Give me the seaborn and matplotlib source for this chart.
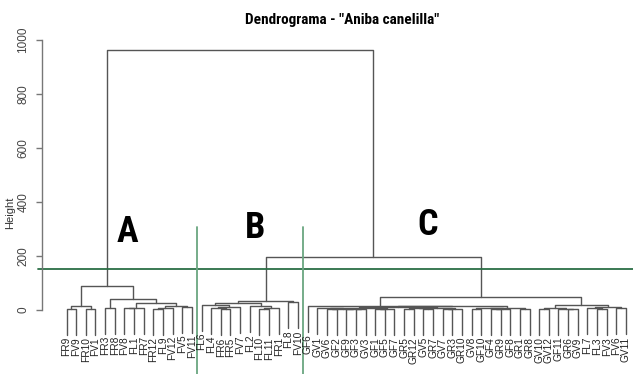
import matplotlib
matplotlib.use("Agg")
import matplotlib.pyplot as plt
import seaborn as sns
import pandas as pd
from matplotlib import font_manager
from matplotlib.font_manager import FontProperties

# sub-agrupamentos: (esquerda, direita, altura); folhas na ordem do gráfico
grupo_A = ((("FR9", "FV9", 4), ("FR10", "FV1", 3), 13),
           (("FR3", "FR8", 8),
            ((("FV8", "FL1", 6), "FR7", 9),
             ((("FR12", "FL9", 5), "FV12", 8), ("FV5", "FV11", 12), 16), 26), 41), 90)

grupo_B = ((("FL6", (("FL4", ("FR6", "FR5", 3), 8), "FV7", 10), 20),
            ("FL2", (("FL10", "FL11", 3), "FR1", 6), 13), 27),
           ("FL8", "FV10", 28), 32)

C1 = (("GV1", (("GV6", "GF2", 3), ("GF9", ("GF3", "GV3", 2), 4), 5), 6),
      (("GF1", "GF5", 3), "GF7", 5), 8)
C2 = ((("GR5", "GR12", 3), ("GV5", "GR7", 4), 6), (("GV7", "GR3", 3), "GR10", 5), 8)
C3 = ((("GV8", "GF10", 4), (("GF4", "GR9", 2), "GF8", 4), 7), ("GR1", "GR8", 3), 8)
C4 = (("GV10", "GV12", 5), ("GF11", ("GR6", "GV9", 3), 5), 8)
C5 = (("FL7", ("FL3", "FV3", 4), 7), ("FV6", "GV11", 6), 12)
grupo_C = (("GF6", ((C1, C2, 11), C3, 14), 16), (C4, C5, 19), 49)

altura_BC = 196
altura_total = 963
corte = 150
letras = ["A", "B", "C"]

arvore = (grupo_A, (grupo_B, grupo_C, altura_BC), altura_total)


def folhas(no):
    if isinstance(no, str):
        return [no]
    return folhas(no[0]) + folhas(no[1])


ordem = folhas(arvore)
pos = {nome: i for i, nome in enumerate(ordem)}
hang = 0.1 * (altura_total - 2)

segs = []
rot = []


def montar(no):
    esq, dir_, h = no
    xs, ys = [], []
    for filho in (esq, dir_):
        if isinstance(filho, str):
            x = pos[filho]
            xs.append(x)
            ys.append(h - hang)
            rot.append((x, h - hang, filho))
        else:
            x, hf = montar(filho)
            xs.append(x)
            ys.append(hf)
    for px, py in [(xs[0], ys[0]), (xs[0], h), (xs[1], h), (xs[1], ys[1])]:
        segs.append({"x": px, "y": py})
    return (xs[0] + xs[1]) / 2, h


montar(arvore)
df = pd.DataFrame(segs)
df["seg"] = df.index // 4

sns.set_theme(style="white")
nomes = {f.name for f in font_manager.fontManager.ttflist}


def fonte_estreita():
    for fam in ["Liberation Sans Narrow", "Roboto Condensed", "Open Sans Condensed",
                "Noto Sans Condensed", "Arial Narrow"]:
        if fam in nomes:
            return {"family": fam}, True
    fp = FontProperties(family="DejaVu Sans", stretch="condensed", weight="bold")
    if "Condensed" in font_manager.findfont(fp):
        return {"family": "DejaVu Sans", "fontstretch": "condensed"}, True
    for fam in ["Roboto", "Liberation Sans"]:
        if fam in nomes:
            return {"family": fam}, False
    return {"family": "DejaVu Sans"}, False


estreita, achou = fonte_estreita()
plt.rcParams["font.family"] = ["Liberation Sans", "DejaVu Sans"]

fig = plt.figure(figsize=(6.33, 3.74), dpi=100)
ax = fig.add_axes([42 / 633, 0, 591 / 633, 1])

sns.lineplot(data=df, x="x", y="y", units="seg", estimator=None, sort=False,
             color="#555555", linewidth=1.0, ax=ax)

for x, y, nome in rot:
    ax.text(x, y - 8, nome, rotation=90, ha="center", va="top",
            fontsize=7.3, color="#222222")

# linha de corte e divisões dos grupos
ax.plot([-2.95, 58.8], [corte, corte], color="#2b6e45", linewidth=1.3, clip_on=False)
for xv in [13.5, 24.5]:
    ax.plot([xv, xv], [307, -240], color="#6aa680", linewidth=1.3, clip_on=False)

for letra, (xl, yl) in zip(letras, [(6.3, 289), (19.5, 304), (37.4, 315)]):
    ax.text(xl, yl, letra, ha="center", va="center", fontsize=26 if achou else 24,
            fontweight="bold", color="black", **estreita)

ax.set_xlim(-2.54, 58.73)
ax.set_ylim(-237, 1148)
for s in ["top", "right", "bottom"]:
    ax.spines[s].set_visible(False)
ax.spines["left"].set_bounds(0, 1000)
ax.spines["left"].set_color("#777777")
ax.spines["left"].set_linewidth(1.0)
ax.set_xticks([])
ax.set_yticks([0, 200, 400, 600, 800, 1000])
ax.set_yticklabels(["0", "200", "400", "600", "800", "1000"], rotation=90, va="center")
ax.tick_params(axis="y", left=True, length=4, width=1, color="#777777",
               labelsize=8.5, labelcolor="#444444", pad=5)
ax.set_xlabel("")
ax.set_ylabel("")

fig.text(10 / 633, 1 - 213 / 374, "Height", rotation=90, ha="center", va="center",
         fontsize=8, color="#333333")
fig.text(342 / 633, 1 - 20 / 374, 'Dendrograma - "Aniba canelilla"', ha="center",
         va="center", fontsize=11 if achou else 9, fontweight="bold", color="black",
         **estreita)

fig.savefig("out.png", dpi=100)
